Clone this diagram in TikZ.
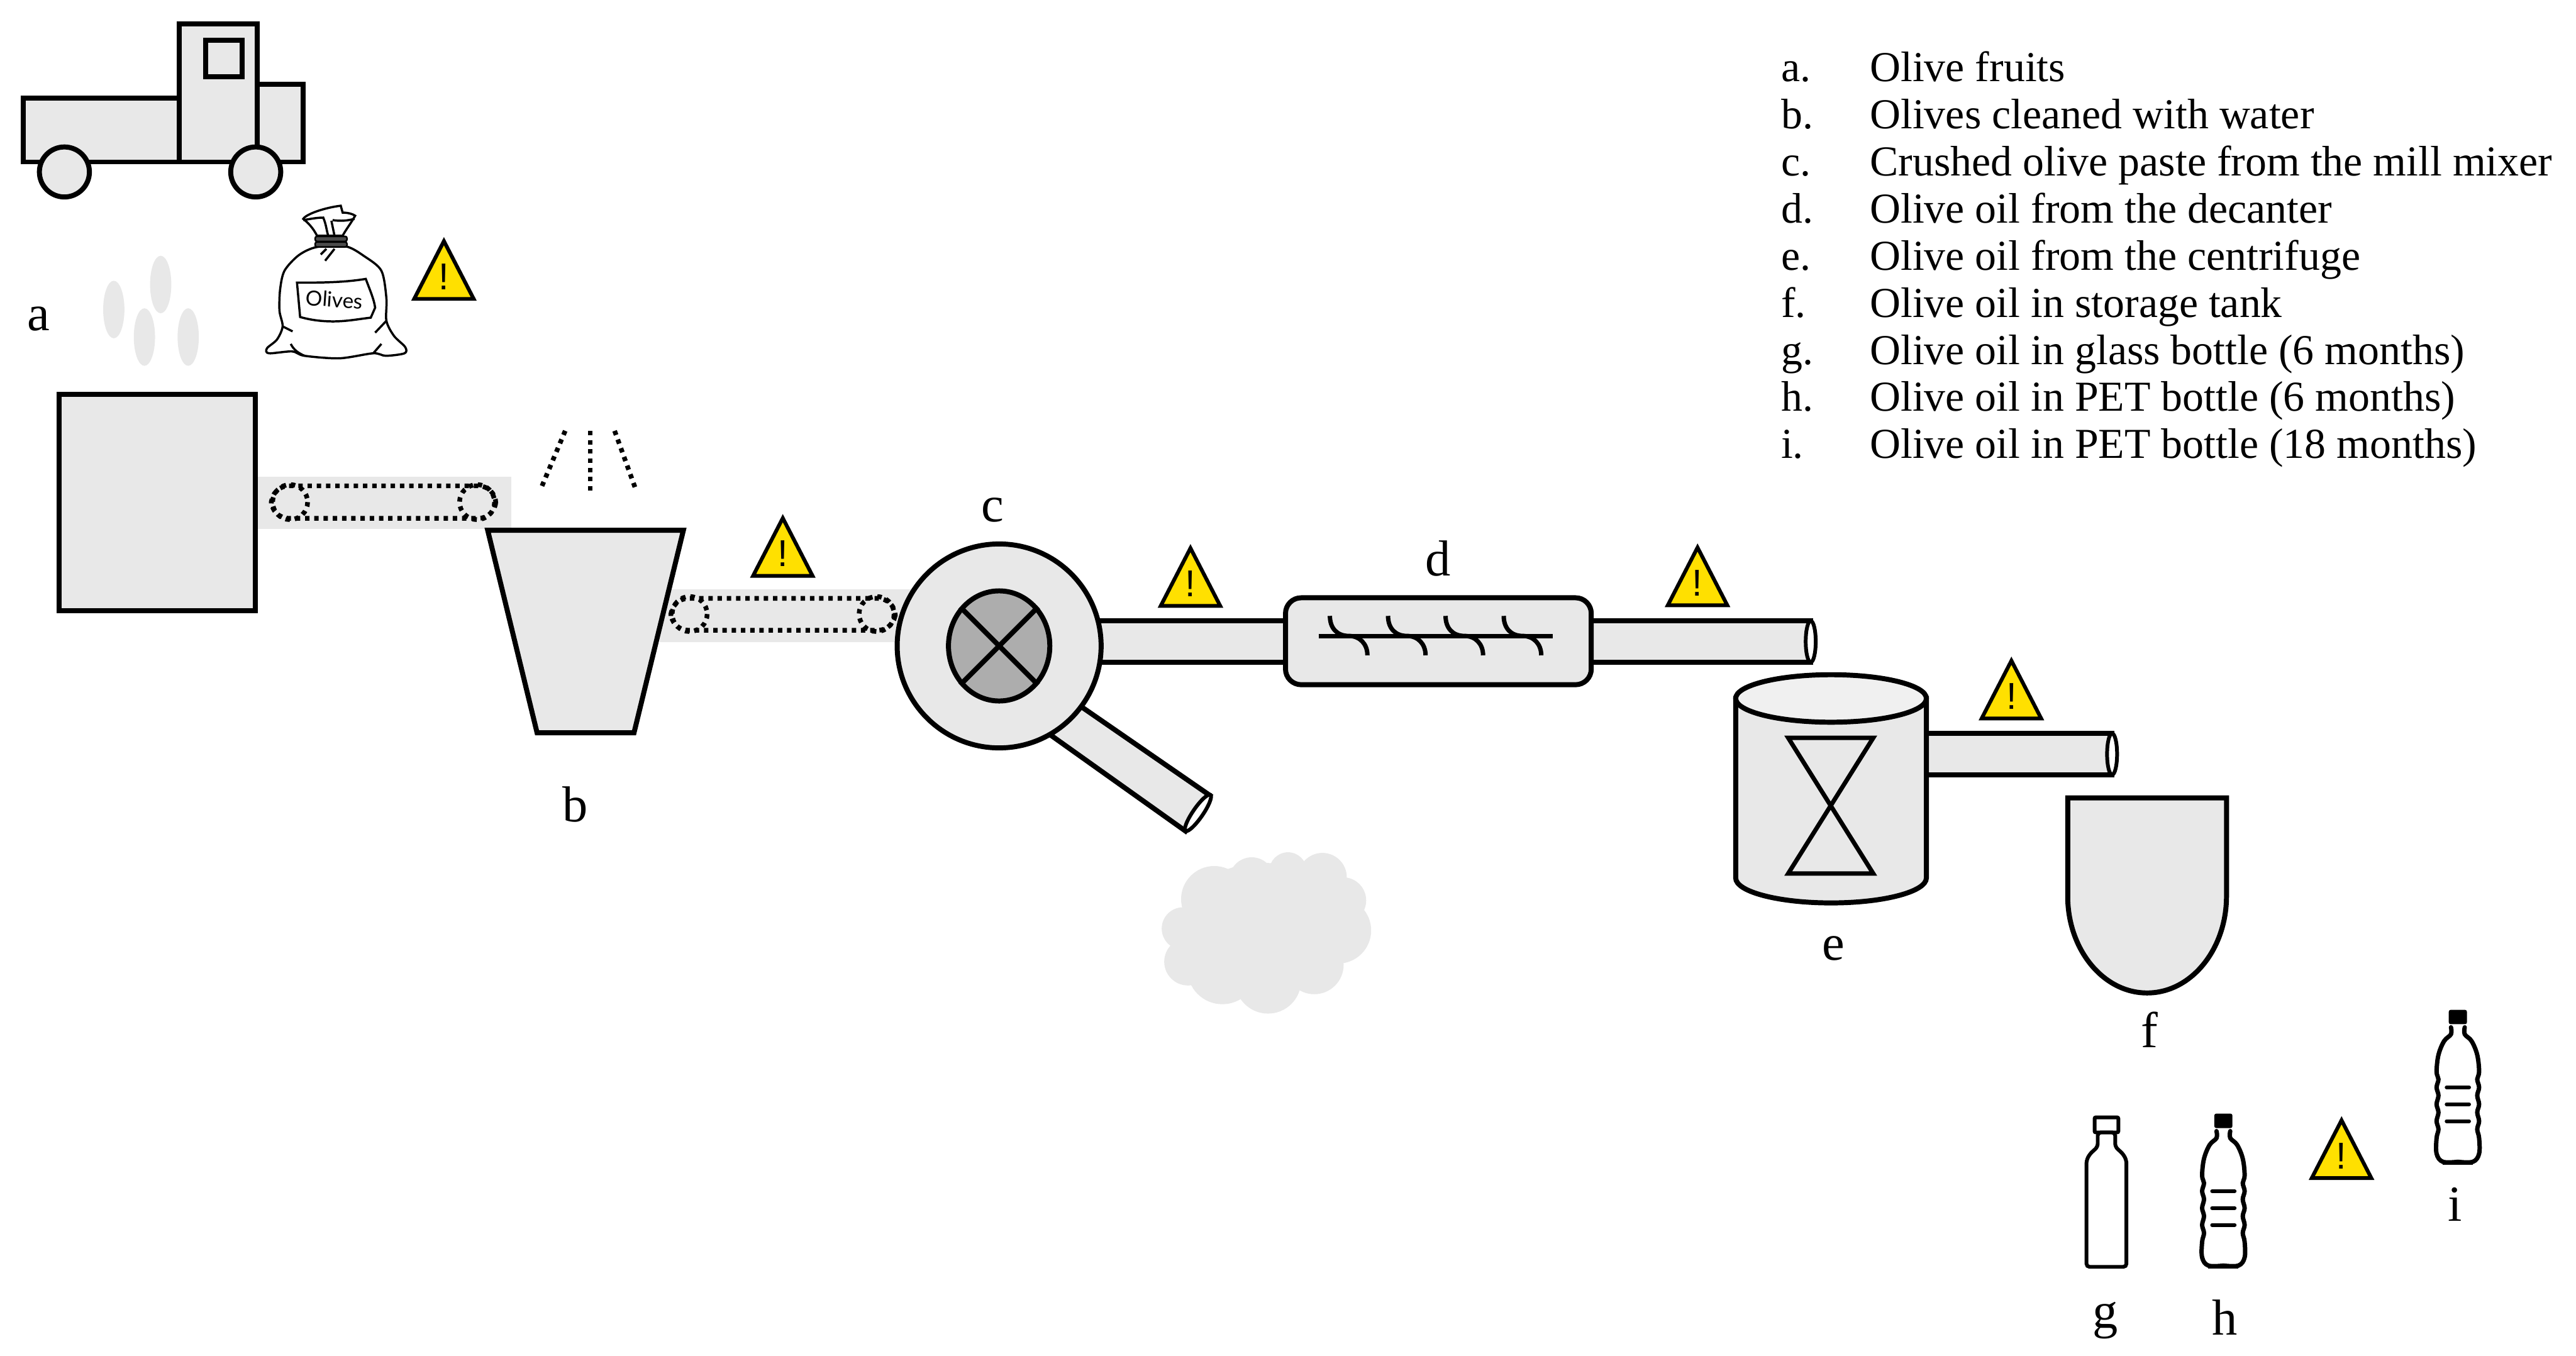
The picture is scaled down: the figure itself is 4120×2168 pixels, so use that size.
\documentclass[tikz,border=0pt]{standalone}
\usepackage{fontspec}
\setmainfont{Liberation Serif}
\newfontfamily\warnfont{Liberation Sans}
\newfontfamily\bagfont{Lato}
\usetikzlibrary{shapes.geometric}

\definecolor{partgrey}{HTML}{E8E8E8}
\definecolor{coregrey}{HTML}{ADADAD}
\definecolor{lidgrey}{HTML}{F0F0F0}
\definecolor{warnyellow}{HTML}{FFE000}

\tikzset{
	part/.style={draw=black, fill=partgrey, line width=0.08cm},
	thinpart/.style={draw=black, line width=0.06cm},
	beltline/.style={draw=black, line width=0.075cm, dash pattern=on 2pt off 2.2pt},
	bagline/.style={draw=black, line width=0.035cm},
	steplabel/.style={inner sep=0pt, font=\fontsize{23}{25}\selectfont},
	legendrow/.style={inner sep=0pt, anchor=base west, font=\fontsize{19.4}{22}\selectfont},
	warnsign/.pic={
		\draw[draw=black, fill=warnyellow, line width=0.06cm] (-47.6,-3) -- (47.6,-3) -- (0,-95.4) -- cycle;
		\node[inner sep=0pt, font=\warnfont\fontsize{17}{17}\selectfont] (-mark) at (0,-38.5) {!};
	},
	petbottle/.pic={
		\fill[rounded corners=0.03cm] (-14.5,0) rectangle (14.5,23);
		\foreach \sx in {-1,1}{
			\draw[xscale=\sx, line width=0.07cm, line cap=round] plot[smooth, tension=0.6] coordinates {(11,28) (11,39) (22,50) (31,72) (34,99) (31,111) (34,124) (31,137) (34,151) (31,164) (34,178) (31,191) (34,205) (34,230) (24,243) (0,243)};
			\draw[xscale=\sx, line width=0.06cm] (0,245) -- (24,245);
		}
		\foreach \sy in {124,151,178}{
			\draw[line width=0.06cm, line cap=round] (-18,\sy) -- (18,\sy);
		}
	},
	glassbottle/.pic={
		\draw[thinpart, rounded corners=0.05cm] (0,242) -- (-32,242) -- (-32,72) -- (-27,62) -- (-14,50) -- (-14,27) -- (14,27) -- (14,50) -- (27,62) -- (32,72) -- (32,242) -- cycle;
		\draw[thinpart, rounded corners=0.02cm] (-19,3) rectangle (19,27);
	}
}

\begin{document}
\begin{tikzpicture}[x=0.01cm, y=-0.01cm]
	
	\useasboundingbox (0,0) rectangle (4120,2168);
	
	\draw[part] (411,135) rectangle (485,259);
	\draw[part] (37,157) rectangle (287,259);
	\draw[part] (287,38) rectangle (411,259);
	\draw[part] (329,64) rectangle (387,123);
	\draw[part] (103,275) circle (40);
	\draw[part] (409,275) circle (40);
	
	\draw[bagline, fill=white] plot[smooth cycle, tension=0.5] coordinates {(507,395) (478,408) (455,433) (448,463) (447,497) (452,522) (443,543) (427,557) (430,565) (467,562) (487,569) (543,573) (597,565) (617,569) (647,565) (648,555) (630,537) (618,513) (618,477) (610,433) (583,410) (553,394)};
	\draw[bagline, fill=white] (507,377) .. controls (500,363) and (492,356) .. (485,350) .. controls (490,342) and (520,332) .. (545,329) -- (548,340) .. controls (556,340) and (564,342) .. (568,345) .. controls (562,356) and (554,366) .. (548,377) -- cycle;
	\draw[bagline] (485,352) .. controls (497,350) and (507,348) .. (517,348) .. controls (522,360) and (522,368) .. (525,377);
	\draw[bagline] (530,353) -- (535,377);
	\draw[bagline] (532,352) .. controls (545,354) and (555,353) .. (567,350);
	\draw[bagline] (475,452) .. controls (510,452) and (550,452) .. (585,446) .. controls (592,465) and (598,478) .. (600,492) -- (593,508) .. controls (575,510) and (555,514) .. (533,514) .. controls (515,514) and (498,512) .. (480,507) -- cycle;
	\draw[bagline] (452,522) -- (468,530);
	\draw[bagline] (618,513) -- (600,532);
	\draw[bagline] (465,550) .. controls (470,560) and (478,565) .. (487,569);
	\draw[bagline] (610,550) -- (597,565);
	\draw[bagline] (513,407) -- (522,398);
	\draw[bagline] (520,417) -- (535,398);
	\foreach \ty in {382,391}{
		\draw[draw=black, fill=black!70, line width=0.025cm, rounded corners=0.03cm] (504,\ty-4) rectangle (555,\ty+4);
	}
	\node[inner sep=0pt, rotate=-4, font=\bagfont\fontsize{9.5}{9.5}\selectfont] (baglabel) at (535,479) {Olives};
	
	\foreach \fx/\fy in {182/495, 257/455, 231/539, 301/539}{
		\fill[partgrey] (\fx,\fy) ellipse [x radius=17, y radius=46];
	}
	
	\node[steplabel] (labela) at (62,510) {a};
	\node[steplabel] (labelb) at (920,1286) {b};
	\node[steplabel] (labelc) at (1588,816) {c};
	\node[steplabel] (labeld) at (2300,893) {d};
	\node[steplabel] (labele) at (2932,1517) {e};
	\node[steplabel] (labelf) at (3438,1647) {f};
	\node[steplabel] (labelg) at (3367,2112) {g};
	\node[steplabel] (labelh) at (3558,2107) {h};
	\node[steplabel] (labeli) at (3927,1926) {i};
	
	\fill[partgrey] (412,762) rectangle (818,846);
	\draw[beltline, rounded corners=0.28cm] (434,777) rectangle (793,829);
	\draw[beltline] (464,803) circle (28);
	\draw[beltline] (763,803) circle (28);
	
	\draw[part] (95,631) rectangle (408,977);
	
	\coordinate (sprayl) at (904,689);
	\coordinate (sprayc) at (944,689);
	\coordinate (sprayr) at (983,689);
	\path[beltline] (sprayl) edge (864,784);
	\path[beltline] (sprayc) edge (944,789);
	\path[beltline] (sprayr) edge (1018,786);
	
	\fill[partgrey] (1055,942) rectangle (1480,1027);
	\draw[beltline, rounded corners=0.28cm] (1073,957) rectangle (1432,1008);
	\draw[beltline] (1103,982) circle (28);
	\draw[beltline] (1402,982) circle (28);
	
	\draw[part] (780,848) -- (1093,848) -- (1014,1172) -- (859,1172) -- cycle;
	
	\draw[part] (1584,1107) -- (1896,1329) -- (1935,1272) -- (1632,1063) -- cycle;
	\draw[thinpart, fill=white] (1916,1300) ellipse [rotate=-34.6, x radius=8, y radius=35];
	\draw[part] (1700,993) rectangle (2100,1059);
	
	\node[part, shape=circle, minimum size=3.26cm, inner sep=0pt] (mill) at (1598,1033) {};
	\node[part, fill=coregrey, shape=ellipse, minimum width=1.62cm, minimum height=1.76cm, inner sep=0pt] (millcore) at (1598,1033) {};
	\path[draw=black, line width=0.08cm] (millcore.45) edge (millcore.225);
	\path[draw=black, line width=0.08cm] (millcore.135) edge (millcore.315);
	
	\draw[part] (2500,993) rectangle (2896,1059);
	\draw[thinpart, fill=white] (2896,1026) ellipse [x radius=8, y radius=33];
	
	\draw[part, rounded corners=0.25cm] (2056,956) rectangle (2545,1095);
	\draw[line width=0.07cm] (2109,1017) -- (2483,1017);
	\foreach \sx in {2127,2220,2312,2405}{
		\draw[line width=0.07cm] (\sx,985) .. controls (\sx,1005) and (\sx+12,1017) .. (\sx+30,1017) .. controls (\sx+48,1017) and (\sx+60,1030) .. (\sx+60,1048);
	}
	
	\draw[part] (3040,1173) rectangle (3378,1239);
	\draw[thinpart, fill=white] (3378,1206) ellipse [x radius=8, y radius=33];
	
	\draw[part] (2776,1117) -- (2776,1404) arc[start angle=180, end angle=0, x radius=152.5, y radius=40] -- (3081,1117) -- cycle;
	\draw[part, fill=lidgrey] (2928.5,1117) ellipse [x radius=152.5, y radius=38];
	\draw[part, line width=0.07cm] (2860,1180) -- (2996,1180) -- (2860,1397) -- (2996,1397) -- cycle;
	
	\draw[part] (3307,1276) -- (3307,1433) arc[start angle=180, end angle=0, x radius=127, y radius=155] -- (3561,1276) -- cycle;
	
	\fill[partgrey] (2020,1480) ellipse [x radius=130, y radius=100];
	\foreach \px/\py/\pr in {1942/1438/53, 2002/1407/36, 2060/1393/30, 2115/1403/39, 2148/1440/37, 2140/1488/53, 2102/1543/47, 2028/1568/53, 1955/1550/56, 1900/1538/38, 1892/1485/34}{
		\fill[partgrey] (\px,\py) circle (\pr);
	}
	
	\pic (gbottle) at (3369,1784) {glassbottle};
	\pic (hbottle) at (3556,1781) {petbottle};
	\pic (ibottle) at (3931,1615) {petbottle};
	
	\foreach \wname/\wx/\wy in {a/710/481, b/1252/924, c/1904/972, d/2715/971, e/3217/1152, f/3745/1887}{
		\pic (warn\wname) at (\wx,\wy) {warnsign};
	}
	
	\foreach \lbl/\txt [count=\n] in {a./Olive fruits, b./Olives cleaned with water, c./Crushed olive paste from the mill mixer, d./Olive oil from the decanter, e./Olive oil from the centrifuge, f./Olive oil in storage tank, g./Olive oil in glass bottle (6 months), h./Olive oil in PET bottle (6 months), i./Olive oil in PET bottle (18 months)}{
		\node[legendrow] (key\n) at (2848,{130+75.4*(\n-1)}) {\lbl};
		\node[legendrow] (row\n) at (2990,{130+75.4*(\n-1)}) {\txt};
	}
	
\end{tikzpicture}
\end{document}
